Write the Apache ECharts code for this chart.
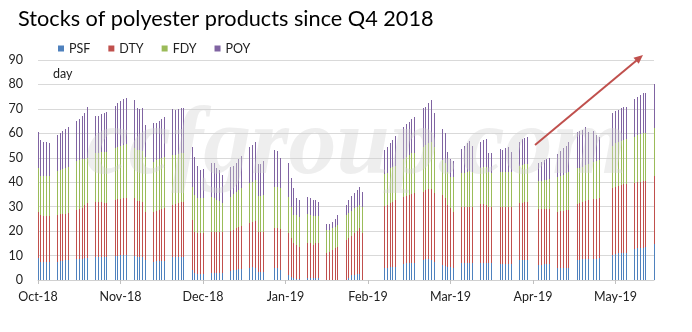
<!DOCTYPE html>
<html>
<head>
<meta charset="utf-8">
<script src="https://cdn.jsdelivr.net/npm/echarts@6/dist/echarts.min.js"></script>
<style>
html,body{margin:0;padding:0;background:#fff;}
#chart{width:692px;height:332px;}
</style>
</head>
<body>
<div id="chart"></div>
<script>
// ---- data ----
const firstDay = '2018-10-08';
const lastDay = '2019-05-20';
const tickLabels = ['Oct-18','Nov-18','Dec-18','Jan-19','Feb-19','Mar-19','Apr-19','May-19'];
const seriesNames = ['PSF','DTY','FDY','POY'];

// working days with published stocks
const dates = [
 '2018-10-08','2018-10-09','2018-10-10','2018-10-11','2018-10-12',
 '2018-10-15','2018-10-16','2018-10-17','2018-10-18','2018-10-19',
 '2018-10-22','2018-10-23','2018-10-24','2018-10-25','2018-10-26',
 '2018-10-29','2018-10-30','2018-10-31','2018-11-01','2018-11-02',
 '2018-11-05','2018-11-06','2018-11-07','2018-11-08','2018-11-09',
 '2018-11-12','2018-11-13','2018-11-14','2018-11-15','2018-11-16',
 '2018-11-19','2018-11-20','2018-11-21','2018-11-22','2018-11-23',
 '2018-11-26','2018-11-27','2018-11-28','2018-11-29','2018-11-30',
 '2018-12-03','2018-12-04','2018-12-05','2018-12-06','2018-12-07',
 '2018-12-10','2018-12-11','2018-12-12','2018-12-13','2018-12-14',
 '2018-12-17','2018-12-18','2018-12-19','2018-12-20','2018-12-21',
 '2018-12-24','2018-12-25','2018-12-26','2018-12-27','2018-12-28','2018-12-29',
 '2019-01-02','2019-01-03','2019-01-04',
 '2019-01-07','2019-01-08','2019-01-09','2019-01-10','2019-01-11',
 '2019-01-14','2019-01-15','2019-01-16','2019-01-17','2019-01-18',
 '2019-01-21','2019-01-22','2019-01-23','2019-01-24','2019-01-25',
 '2019-01-28','2019-01-29','2019-01-30','2019-01-31','2019-02-01','2019-02-02','2019-02-03',
 '2019-02-11','2019-02-12','2019-02-13','2019-02-14','2019-02-15',
 '2019-02-18','2019-02-19','2019-02-20','2019-02-21','2019-02-22',
 '2019-02-25','2019-02-26','2019-02-27','2019-02-28','2019-03-01',
 '2019-03-04','2019-03-05','2019-03-06','2019-03-07','2019-03-08',
 '2019-03-11','2019-03-12','2019-03-13','2019-03-14','2019-03-15',
 '2019-03-18','2019-03-19','2019-03-20','2019-03-21','2019-03-22',
 '2019-03-25','2019-03-26','2019-03-27','2019-03-28','2019-03-29',
 '2019-04-01','2019-04-02','2019-04-03','2019-04-04',
 '2019-04-08','2019-04-09','2019-04-10','2019-04-11','2019-04-12',
 '2019-04-15','2019-04-16','2019-04-17','2019-04-18','2019-04-19',
 '2019-04-22','2019-04-23','2019-04-24','2019-04-25','2019-04-26','2019-04-28','2019-04-29','2019-04-30',
 '2019-05-05','2019-05-06','2019-05-07','2019-05-08','2019-05-09','2019-05-10',
 '2019-05-13','2019-05-14','2019-05-15','2019-05-16','2019-05-17',
 '2019-05-20'
];

const PSF = [
 8.9,7.5,7.2,7.2,7.5,
 7.5,7.6,7.8,8.0,8.0,
 8.6,8.6,8.7,8.8,8.9,
 9.3,9.3,9.3,9.3,9.3,
 9.8,10.0,10.1,10.2,10.2,
 9.8,9.6,9.6,9.4,8.2,
 7.5,7.6,7.7,7.8,7.9,
 9.3,9.3,9.3,9.3,9.3,
 4.0,2.7,2.5,2.5,2.5,
 3.0,3.0,3.0,3.0,3.0,
 3.8,4.0,4.1,4.3,4.4,
 4.8,5.2,4.8,3.4,3.4,3.4,
 4.8,4.8,4.1,
 2.0,1.4,0.7,0.5,0.5,
 1.0,1.0,1.0,1.0,1.0,
 0,0,0,0,0,
 0,1.0,2.0,2.0,2.5,2.5,0,
 4.8,4.8,5.2,5.2,5.5,
 6.5,6.8,6.8,6.8,7.1,
 8.2,8.5,8.5,8.2,7.5,
 6.1,5.7,5.5,5.2,4.8,
 6.8,6.8,6.8,6.8,6.8,
 6.8,6.8,6.8,6.8,6.8,
 6.5,6.5,6.5,6.5,6.5,
 8.2,8.2,8.2,8.2,
 6.1,6.2,6.4,6.4,6.4,
 4.9,4.9,4.9,4.9,4.9,
 8.2,8.2,8.5,8.5,8.5,8.6,8.6,8.9,
 10.2,10.5,10.9,10.9,11.2,11.2,
 12.5,13.0,13.0,13.2,13.4,
 14.7
];

const DTY = [
 19.1,19.1,18.8,18.8,18.5,
 19.1,19.2,19.2,19.2,19.3,
 20.0,20.4,20.8,21.7,22.5,
 22.7,22.5,22.5,22.3,22.3,
 22.9,23.0,23.1,23.2,23.4,
 23.6,22.9,22.9,22.6,19.8,
 20.5,20.7,20.9,21.2,21.4,
 21.4,21.7,22.1,22.5,22.7,
 20.5,17.1,16.6,16.6,16.6,
 16.8,16.8,16.8,16.8,16.8,
 16.4,16.6,17.1,17.5,17.8,
 18.4,18.7,19.5,16.4,16.4,16.4,
 16.3,16.3,16.6,
 17.1,15.6,14.6,13.8,13.1,
 14.0,14.0,13.3,14.0,14.0,
 11.2,11.6,12.3,13.0,13.6,
 16.4,16.0,16.0,17.1,17.7,18.6,19.1,
 25.5,25.9,26.4,26.8,27.2,
 27.6,27.6,28.0,28.4,28.4,
 27.9,28.3,28.6,28.9,28.0,
 28.7,27.7,25.2,24.1,23.2,
 23.2,23.2,23.2,23.2,23.2,
 24.3,24.3,23.9,23.2,23.2,
 23.5,23.5,23.5,23.5,23.5,
 23.2,23.4,23.8,23.8,
 22.8,22.7,22.5,22.5,22.5,
 23.1,23.3,23.5,23.7,23.7,
 22.9,23.4,23.5,23.8,24.2,24.4,24.7,24.5,
 27.3,27.7,27.6,28.0,28.1,28.1,
 27.3,27.2,27.2,27.3,27.2,
 27.9
];

const FDY = [
 17.7,15.9,16.5,16.5,16.5,
 18.1,18.2,18.5,18.8,18.9,
 19.9,20.0,19.8,19.1,18.6,
 19.8,20.2,20.4,20.7,20.9,
 21.2,21.5,21.8,21.8,21.9,
 20.5,20.7,20.5,20.8,22.5,
 20.4,20.7,20.9,21.0,21.2,
 20.3,20.2,20.1,20.0,20.0,
 13.7,15.0,14.3,14.3,14.3,
 14.2,13.7,12.9,12.7,11.6,
 13.9,14.4,14.8,15.2,15.3,
 16.3,16.3,16.6,14.6,14.6,15.0,
 17.1,16.8,16.8,
 15.0,13.0,11.3,12.3,12.3,
 12.0,11.6,11.9,11.2,11.2,
 9.3,8.9,9.1,8.8,8.9,
 10.2,10.3,10.4,10.2,9.8,9.6,10.9,
 13.1,13.2,14.1,14.4,13.9,
 15.3,16.1,16.3,16.6,16.6,
 18.2,18.4,18.8,19.5,18.8,
 14.2,14.6,13.3,12.7,14.0,
 13.6,13.9,14.3,14.7,14.3,
 14.6,15.3,15.7,14.3,13.6,
 14.3,14.3,14.3,14.3,14.3,
 15.2,15.4,15.3,15.5,
 11.6,11.8,12.0,12.1,12.3,
 14.3,14.3,14.6,15.0,15.5,
 14.6,14.4,14.4,14.7,14.8,15.4,15.5,15.7,
 17.3,17.7,18.1,18.1,18.0,18.2,
 18.8,19.1,19.5,19.5,19.4,
 19.7
];

const POY = [
 15.0,14.8,13.8,14.1,13.7,
 14.6,15.0,15.5,15.8,16.3,
 16.7,17.0,17.7,18.6,20.9,
 15.4,15.2,15.6,15.9,16.2,
 17.3,17.8,18.4,18.8,19.1,
 19.7,17.0,16.8,17.4,12.9,
 16.0,15.4,15.4,15.7,16.3,
 18.8,18.3,18.5,18.6,18.5,
 16.3,15.7,13.2,11.6,11.9,
 14.0,14.5,13.0,12.5,11.6,
 12.0,11.6,11.7,12.4,13.2,
 14.8,15.0,15.7,13.1,13.1,14.0,
 15.0,15.0,12.3,
 13.9,11.6,11.2,6.8,6.8,
 7.1,6.8,6.5,6.5,5.8,
 2.4,2.4,2.5,3.0,4.1,
 4.1,5.4,6.0,6.2,6.8,7.2,6.1,
 9.8,10.4,10.2,10.9,12.3,
 13.3,13.3,13.7,13.9,14.4,
 15.9,15.7,16.4,17.0,13.9,
 12.6,12.3,8.5,7.4,6.8,
 9.9,10.9,11.6,12.3,10.5,
 10.9,10.9,11.1,7.8,8.5,
 9.2,8.9,9.6,10.0,8.2,
 10.0,10.5,10.9,11.1,
 7.2,7.5,8.0,8.4,8.6,
 9.4,10.3,11.1,11.2,12.3,
 15.0,15.1,15.0,15.5,13.2,12.7,10.5,9.5,
 13.4,13.4,12.9,13.2,13.6,13.1,
 15.3,15.7,16.0,16.4,16.6,
 17.9
];

// ---- build calendar category axis ----
function iso(t){ return new Date(t).toISOString().slice(0,10); }
const calendar = [];
for (let t = Date.parse(firstDay + 'T00:00:00Z'); t <= Date.parse(lastDay + 'T00:00:00Z'); t += 86400000) calendar.push(iso(t));
const calIndex = {};
calendar.forEach((d, i) => { calIndex[d] = i; });

const values = [PSF, DTY, FDY, POY];
const colors = ['#4F81BD','#C0504D','#9BBB59','#8064A2'];
const TICK_STEP = 30;

// stacked rows: [calendar index, value, stack base]
const stacked = values.map((arr, k) => dates.map((d, j) => {
  let base = 0;
  for (let m = 0; m < k; m++) base += values[m][j];
  return [calIndex[d], arr[j], base];
}));

function makeRender(color) {
  return function (params, api) {
    const v = api.value(1);
    if (!v) return null;
    const i = api.value(0), base = api.value(2);
    const p0 = api.coord([i, base]);
    const p1 = api.coord([i, base + v]);
    const x = Math.floor(p0[0]);
    const yb = Math.round(p0[1]), yt = Math.round(p1[1]);
    if (yb - yt <= 0) return null;
    return {type: 'rect', shape: {x: x, y: yt, width: 1, height: yb - yt}, style: {fill: color}};
  };
}

const chart = echarts.init(document.getElementById('chart'), null, {renderer:'canvas'});
const FONT = 'Lato';
chart.setOption({
  animation: false,
  backgroundColor: '#fff',
  textStyle: {fontFamily: FONT},
  title: {
    text: 'Stocks of polyester products since Q4 2018',
    left: 13, top: 3,
    textStyle: {fontFamily: FONT, fontSize: 21.7, fontWeight: 'normal', color: '#000'}
  },
  legend: {
    left: 53, top: 37,
    icon: 'rect', itemWidth: 6, itemHeight: 6, itemGap: 18,
    textStyle: {fontFamily: FONT, fontSize: 12.5, color: '#222'},
    data: seriesNames.map((n, k) => ({name: n, itemStyle: {color: colors[k]}}))
  },
  grid: {left: 38, right: 38, top: 60, bottom: 52, containLabel: false},
  xAxis: {
    type: 'category',
    data: calendar,
    boundaryGap: false,
    axisLine: {lineStyle: {color: '#d0d0d0', width: 1}},
    axisTick: {show: true, interval: TICK_STEP - 1, length: 4, lineStyle: {color: '#c0c0c0'}},
    axisLabel: {
      interval: TICK_STEP - 1, margin: 10,
      fontFamily: FONT, fontSize: 12.5, color: '#222',
      formatter: (v, i) => tickLabels[Math.round(i / TICK_STEP)] || ''
    },
    splitLine: {show: false}
  },
  yAxis: {
    type: 'value', min: 0, max: 90, interval: 10,
    axisLine: {show: false}, axisTick: {show: false},
    axisLabel: {margin: 15, fontFamily: FONT, fontSize: 12.5, color: '#222'},
    splitLine: {lineStyle: {color: '#d9d9d9', width: 1}}
  },
  series: seriesNames.map((n, k) => ({
    name: n, type: 'custom',
    itemStyle: {color: colors[k]},
    encode: {x: 0, y: 1},
    renderItem: makeRender(colors[k]),
    data: stacked[k]
  })),
  graphic: [
    {type: 'text', left: 53, top: 67, style: {text: 'day', font: '12.5px ' + FONT, fill: '#222'}},
    {type: 'text', left: 86, top: 100, z: 100,
     style: {text: 'ccfgroup.com', font: 'italic bold 96px "Liberation Serif"', fill: 'rgba(210,210,210,0.38)'}},
    {type: 'line', z: 101, shape: {x1: 535, y1: 145, x2: 636.5, y2: 60.5}, style: {stroke: '#C0504D', lineWidth: 2}},
    {type: 'polygon', z: 101, shape: {points: [[643, 55], [638.7, 63.8], [633.5, 57.7]]}, style: {fill: '#C0504D'}}
  ]
});
</script>
</body>
</html>
